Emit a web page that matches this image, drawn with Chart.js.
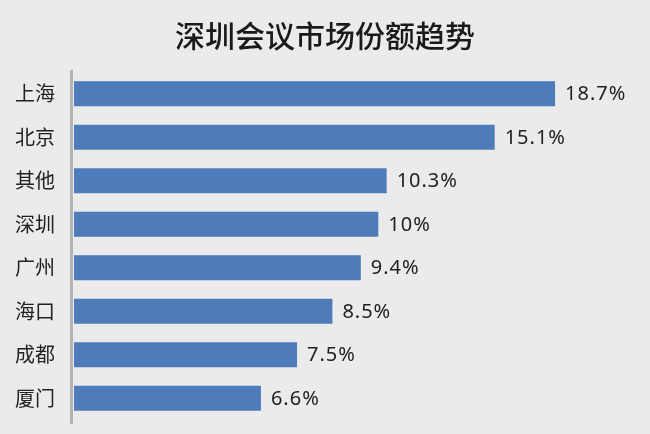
<!DOCTYPE html>
<html>
<head>
<meta charset="utf-8">
<script src="https://cdn.jsdelivr.net/npm/chart.js@4/dist/chart.umd.min.js"></script>
<style>
  html, body { margin: 0; padding: 0; background: #ebebeb; }
  canvas { display: block; }
</style>
</head>
<body>
<canvas id="barChart" width="650" height="434"></canvas>
<script>
const titleText = '深圳会议市场份额趋势';
const cities = ['上海', '北京', '其他', '深圳', '广州', '海口', '成都', '厦门'];
const shares = [18.7, 15.1, 10.3, 10, 9.4, 8.5, 7.5, 6.6];

// value labels at the end of each bar
const valueLabels = {
    id: 'valueLabels',
    afterDatasetsDraw(chart) {
        const ctx = chart.ctx;
        const meta = chart.getDatasetMeta(0);
        ctx.save();
        ctx.font = '20px "Noto Sans"';
        ctx.letterSpacing = '1px';
        ctx.fillStyle = '#222';
        ctx.textAlign = 'left';
        ctx.textBaseline = 'middle';
        meta.data.forEach((bar, i) => {
            ctx.fillText(shares[i] + '%', bar.x + 10, bar.y + 1);
        });
        ctx.restore();
    }
};

// grey axis line on the left
const axisLine = {
    id: 'axisLine',
    beforeDatasetsDraw(chart) {
        const ctx = chart.ctx;
        const a = chart.chartArea;
        ctx.save();
        ctx.strokeStyle = '#b5b5b5';
        ctx.lineWidth = 3;
        ctx.beginPath();
        ctx.moveTo(a.left - 2.5, a.top - 2);
        ctx.lineTo(a.left - 2.5, a.bottom + 4);
        ctx.stroke();
        ctx.restore();
    }
};

new Chart(document.getElementById('barChart'), {
    type: 'bar',
    data: {
        labels: cities,
        datasets: [{
            data: shares,
            backgroundColor: '#4e7bb9',
            barPercentage: 0.575,
            categoryPercentage: 1
        }]
    },
    options: {
        indexAxis: 'y',
        responsive: false,
        animation: false,
        layout: { padding: { left: 0, right: 0, top: 0, bottom: 14 } },
        plugins: {
            legend: { display: false },
            tooltip: { enabled: false },
            title: {
                display: true,
                text: titleText,
                color: '#1a1a1a',
                font: { family: '"Noto Sans CJK SC"', size: 30, weight: '500', lineHeight: 1.2 },
                padding: { top: 18, bottom: 18 }
            }
        },
        scales: {
            x: {
                type: 'logarithmic',
                display: false,
                bounds: 'data',
                min: 3.405,
                max: 26.17
            },
            y: {
                afterFit(scale) {
                    scale.width = 74;
                    scale.paddingTop = 0;
                    scale.paddingBottom = 0;
                },
                grid: { display: false, drawTicks: false },
                border: { display: false },
                ticks: {
                    color: '#222',
                    padding: 19,
                    font: { family: '"Noto Sans CJK SC"', size: 20 }
                }
            }
        }
    },
    plugins: [valueLabels, axisLine]
});
</script>
</body>
</html>
